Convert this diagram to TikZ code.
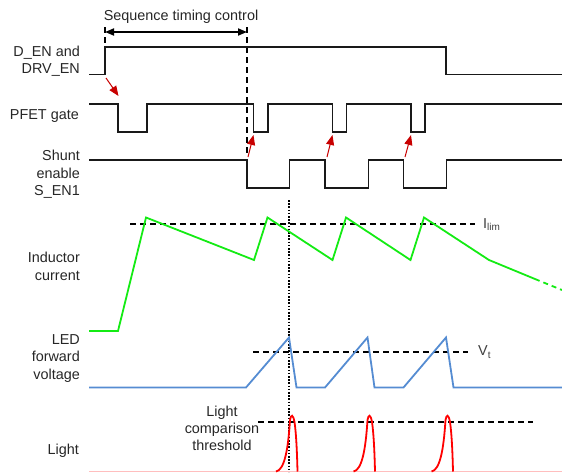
\documentclass[tikz,border=0pt]{standalone}
\usepackage{fontspec}
\setmainfont{Liberation Sans}
\usetikzlibrary{arrows.meta}
\definecolor{ledgreen}{RGB}{20,235,20}
\definecolor{ledblue}{RGB}{85,140,210}
\definecolor{arrred}{RGB}{200,0,0}
\definecolor{pulsered}{RGB}{255,0,0}
\definecolor{basepink}{RGB}{255,190,190}
\begin{document}
\begin{tikzpicture}[x=1pt,y=-1pt,
  sig/.style={line width=1.8pt,black!90,line join=miter},
  lbl/.style={font=\fontsize{14.4}{17.4}\selectfont,align=right,anchor=east,text=black!85,inner sep=0pt},
  ctr/.style={font=\fontsize{14.4}{17}\selectfont,align=center,text=black!85,inner sep=0pt},
  sub/.style={font=\fontsize{14.4}{17}\selectfont,anchor=west,text=black!75,inner sep=0pt},
  dashln/.style={line width=1.7pt,black,dash pattern=on 6pt off 4pt},
  dotln/.style={line width=1.6pt,black,dash pattern=on 1.6pt off 1.6pt},
  redarr/.style={line width=1pt,arrred,-{Triangle[length=10pt,width=8pt]}},
  green/.style={line width=1.8pt,ledgreen,line join=miter},
  blue/.style={line width=1.8pt,ledblue,line join=miter},
  pulse/.style={line width=1.8pt,pulsered}]
\useasboundingbox (0,0) rectangle (562,472);

% labels
\node[lbl] (den) at (80,61) {D\_EN and\\DRV\_EN};
\node[lbl] (pfet) at (79,116) {PFET gate};
\node[lbl] (shunt) at (80,174.5) {Shunt\\enable\\S\_EN1};
\node[lbl] (ind) at (80,266.5) {Inductor\\current};
\node[lbl] (led) at (80,358.5) {LED\\forward\\voltage};
\node[lbl] (light) at (79,451) {Light};
\node[ctr] (thr) at (222,428) {Light\\comparison\\threshold};
\node[ctr] (seq) at (181,17) {Sequence timing control};
\node[sub] (ilim) at (483,224.5) {I\textsubscript{lim}};
\node[sub] (vt) at (478,352) {V\textsubscript{t}};

% sequence timing control
\coordinate (s1) at (105,32);
\coordinate (s2) at (247,32);
\draw[dashln] (105,27) -- (105,47);
\draw[dashln] (247,27) -- (247,156);
\draw[line width=1.7pt,{Triangle[length=9pt,width=7pt]}-{Triangle[length=9pt,width=7pt]}] (s1) -- (s2);

% digital signals
\draw[sig] (89,74.5) -- (105,74.5) -- (105,47) -- (446,47) -- (446,74.5) -- (562,74.5);
\draw[sig] (89,104) -- (118,104) -- (118,132) -- (147,132) -- (147,104)
  -- (253.5,104) -- (253.5,132) -- (268,132) -- (268,104)
  -- (332.5,104) -- (332.5,132) -- (346.5,132) -- (346.5,104)
  -- (411,104) -- (411,132) -- (425,132) -- (425,104) -- (562,104);
\draw[sig] (89,160) -- (247,160) -- (247,188) -- (289.5,188) -- (289.5,160)
  -- (325,160) -- (325,188) -- (368.5,188) -- (368.5,160)
  -- (403.5,160) -- (403.5,188) -- (446.5,188) -- (446.5,160) -- (562,160);

% red arrows
\coordinate (a1t) at (106,78);   \coordinate (a1h) at (118.5,96);
\coordinate (a2t) at (248,157);  \coordinate (a2h) at (253.5,135);
\coordinate (a3t) at (327,157);  \coordinate (a3h) at (332.5,135);
\coordinate (a4t) at (405,157);  \coordinate (a4h) at (411,135);
\draw[redarr] (a1t) -- (a1h);
\draw[redarr] (a2t) -- (a2h);
\draw[redarr] (a3t) -- (a3h);
\draw[redarr] (a4t) -- (a4h);

% dotted vertical marker
\draw[dotln] (289,200) -- (289,472);

% inductor current
\draw[dashln] (130,224) -- (475,224);
\draw[green] (89,331) -- (118,331) -- (146,217.5) -- (254,260) -- (267.5,217.5)
  -- (332.5,260) -- (346,217.5) -- (410.5,260) -- (424,217.5) -- (489,260) -- (535,279);
\draw[green,dash pattern=on 5pt off 4pt] (535,279) -- (562,290);

% LED forward voltage
\draw[dashln] (253,352) -- (468,352);
\draw[blue] (89,387.5) -- (246,387.5) -- (289,337.5) -- (296.5,387.5) -- (325,387.5)
  -- (367.5,337.5) -- (374.5,387.5) -- (403.5,387.5) -- (446,337.5) -- (453.5,387.5) -- (562,387.5);

% light
\draw[line width=1.4pt,basepink] (89,471.5) -- (562,471.5);
\draw[dashln] (258,422) -- (533,422);
\foreach \p in {291,368.5,446.5}{
  \draw[pulse] (\p-15,471.5) .. controls (\p-7,470) and (\p-3,452) .. (\p-1,420)
    .. controls (\p,414) and (\p+2,414) .. (\p+3.5,422)
    .. controls (\p+5,432) and (\p+6,450) .. (\p+6.5,471.5);
}
\end{tikzpicture}
\end{document}
